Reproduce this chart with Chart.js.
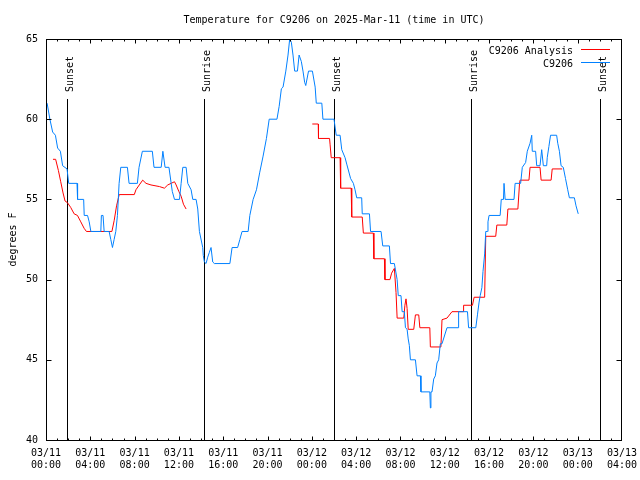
<!DOCTYPE html>
<html>
<head>
<meta charset="utf-8">
<script src="https://cdn.jsdelivr.net/npm/chart.js@4.4.1/dist/chart.umd.min.js"></script>
<style>
  body { margin: 0; background: #fff; }
  #wrap { width: 640px; height: 480px; }
</style>
</head>
<body>
<div id="wrap"><canvas id="myChart" width="640" height="480"></canvas></div>
<script>
// Temperature for C9206, hours after 03/11 00:00 UTC

const chartTitle = "Temperature for C9206 on 2025-Mar-11 (time in UTC)";
const yTitle = "degrees F";
const startDay = 11;

// observed (blue) [hour, degF]
const observed = [
  [0.1,61],[0.35,60],[0.6,59.2],[0.85,59],[1.05,58.2],[1.3,58],[1.5,57.1],[1.9,56.9],[2.05,56],[2.8,56],
  [2.85,55],[3.4,55],[3.45,54],[3.75,54],[3.9,53.6],[4.05,53],[4.95,53],[5.0,54],[5.15,54],[5.25,53],
  [5.7,53],[5.85,52.5],[6.0,52],[6.15,52.5],[6.3,53],[6.45,54],[6.6,56],[6.75,57],[7.35,57],[7.5,56],
  [8.25,56],[8.4,57],[8.7,58],[9.6,58],[9.75,57],[10.4,57],[10.55,58],[10.75,57],[11.1,57],[11.3,56],
  [11.4,55.5],[11.6,55],[12.05,55],[12.2,56],[12.35,57],[12.65,57],[12.8,56],[13.1,55.6],[13.25,55],[13.55,55],
  [13.7,54.4],[13.85,53],[14.15,52],[14.2,51.5],[14.3,51.1],[14.45,51],[14.6,51.4],[14.75,51.7],[14.9,52],[15.05,51.1],
  [15.2,51],[16.6,51],[16.8,52],[17.3,52],[17.5,52.5],[17.7,53],[18.25,53],[18.4,54],[18.7,55],[19.0,55.6],
  [19.3,56.7],[19.6,57.7],[19.9,58.8],[20.15,60],[20.85,60],[21.05,60.8],[21.25,61.9],[21.4,62],[21.65,63],[21.85,64],
  [22.0,65],[22.15,64.8],[22.3,64],[22.45,63],[22.7,63],[22.85,64],[23.05,63.6],[23.2,63],[23.35,62.3],[23.45,62.1],
  [23.7,63],[24.05,63],[24.3,62],[24.4,61],[24.9,61],[25.0,60],[26.0,60],[26.2,59],[26.55,59],[26.7,58.1],
  [27.0,57.6],[27.15,57.2],[27.5,56.3],[27.75,56],[27.9,55.6],[28.05,55.1],[28.5,55.1],[28.55,54.1],[29.2,54.1],[29.3,53],
  [30.25,53],[30.4,52.1],[31.0,52.1],[31.1,51],[31.45,51],[31.55,50.6],[31.7,50],[31.8,49],[32.05,49],[32.15,48],
  [32.35,48],[32.45,47],[32.6,46.9],[32.7,46.3],[32.8,45.9],[32.9,45],[33.35,45],[33.5,44],[33.8,44],[33.85,43],
  [34.65,43],[34.7,42],[34.75,43],[34.85,43],[35.0,43.8],[35.15,44],[35.3,44.8],[35.45,45],[35.6,46],[35.75,46],
  [36.2,47],[37.2,47],[37.25,48],[38.05,48],[38.15,47],[38.8,47],[38.95,47.8],[39.1,48.6],[39.2,49],[39.35,49.5],
  [39.45,50.5],[39.6,51.6],[39.7,53],[39.85,53],[39.9,53.6],[40.0,54],[41.0,54],[41.1,55],[41.3,55],[41.35,56],
  [41.45,55],[42.25,55],[42.35,56],[42.85,56],[43.0,57],[43.3,57.3],[43.45,58],[43.7,58.5],[43.85,59],[43.9,58],
  [44.2,58],[44.3,57.1],[44.6,57.1],[44.75,58.1],[44.9,57.1],[45.2,57.1],[45.25,57.6],[45.4,58.3],[45.55,59],[46.1,59],
  [46.2,58.5],[46.35,58],[46.5,57.1],[46.7,57],[46.9,56.3],[47.1,55.6],[47.25,55.1],[47.7,55.1],[47.85,54.6],[48.05,54.1]
];

// analysis (red) [hour, degF], null = gap
const analysis = [
  [0.63,57.5],[0.87,57.5],[1.12,56.8],[1.33,56.1],[1.54,55.4],[1.72,54.9],[1.93,54.8],[2.23,54.5],[2.54,54.1],[2.84,54],
  [3.14,53.6],[3.44,53.2],[3.65,53],[5.95,53],[6.16,53.7],[6.37,54.6],[6.61,55.3],[7.97,55.3],[8.12,55.6],[8.42,55.9],
  [8.73,56.2],[9.03,56],[9.48,55.9],[10.24,55.8],[10.69,55.7],[10.99,55.9],[11.29,56],[11.6,56.1],[11.75,55.9],[11.99,55.5],
  [12.2,55.2],[12.41,54.7],[12.65,54.4],
  [18,null],
  [24.04,59.7],[24.58,59.7],[24.6,58.8],[25.6,58.8],[25.65,58.4],[25.75,57.6],[26.55,57.6],[26.6,55.7],[27.55,55.7],[27.6,53.9],
  [28.55,53.9],[28.65,52.9],[29.55,52.9],[29.6,51.3],[30.55,51.3],[30.6,50],[31.05,50],[31.2,50.4],[31.45,50.7],[31.6,49.2],
  [31.7,47.6],[32.3,47.6],[32.4,48.4],[32.5,48.8],[32.6,48.2],[32.7,46.9],[33.2,46.9],[33.35,47.8],[33.65,47.8],[33.75,47],
  [34.65,47],[34.7,45.8],[35.65,45.8],[35.75,47.5],[36.2,47.6],[36.65,48],[37.65,48],[37.7,48.4],[38.5,48.4],[38.65,48.9],
  [39.6,48.9],[39.7,52.7],[40.6,52.7],[40.7,53.4],[41.6,53.4],[41.7,54.4],[42.6,54.4],[42.75,56],[42.8,56.2],[43.6,56.2],
  [43.7,57],[44.6,57],[44.7,56.2],[45.6,56.2],[45.7,56.9],[46.6,56.9]
];

// sunrise / sunset marks (hours)
const sunHours = [1.93, 14.25, 26.03, 38.35, 50.04];
const sunLabels = ["Sunset", "Sunrise", "Sunset", "Sunrise", "Sunset"];

const seriesNames = ["C9206 Analysis", "C9206"];
const seriesColors = ["#ff0000", "#0080ff"];

const FONT = "10px 'DejaVu Sans Mono', monospace";

function toXY(list) {
  return list.map(p => ({x: p[0], y: p[1]}));
}

function crisp(v) {
  return Math.round(v) + 0.5;
}

// gnuplot style frame, inward ticks, sun lines and texts
const gnuplotBits = {
  id: 'gnuplotBits',
  beforeDatasetsDraw(chart) {
    const ctx = chart.ctx;
    const xs = chart.scales.x;
    const a = chart.chartArea;
    ctx.save();
    ctx.strokeStyle = "#000";
    ctx.lineWidth = 1;
    ctx.font = FONT;
    ctx.fillStyle = "#000";
    sunHours.forEach((h, i) => {
      const px = crisp(xs.getPixelForValue(h));
      ctx.beginPath();
      ctx.moveTo(px, a.top + 60);
      ctx.lineTo(px, a.bottom);
      ctx.stroke();
      ctx.save();
      ctx.translate(px + 5, a.top + 53);
      ctx.rotate(-Math.PI / 2);
      ctx.textAlign = "left";
      ctx.textBaseline = "alphabetic";
      ctx.fillText(sunLabels[i], 0, 0);
      ctx.restore();
    });
    ctx.restore();
  },
  afterDraw(chart) {
    const ctx = chart.ctx;
    const xs = chart.scales.x;
    const ys = chart.scales.y;
    const a = chart.chartArea;
    ctx.save();
    ctx.strokeStyle = "#000";
    ctx.lineWidth = 1;
    const L = crisp(a.left), R = crisp(a.right) - 1, T = crisp(a.top), B = crisp(a.bottom);
    ctx.strokeRect(L, T, R - L, B - T);

    ctx.beginPath();
    for (let h = 0; h <= 52; h++) {
      let px = crisp(xs.getPixelForValue(h));
      if (h === 52) px = R;
      const len = (h % 4 === 0) ? 4 : 2;
      ctx.moveTo(px, B); ctx.lineTo(px, B - len);
      ctx.moveTo(px, T); ctx.lineTo(px, T + len);
    }
    for (let v = 40; v <= 65; v += 5) {
      const py = crisp(ys.getPixelForValue(v));
      ctx.moveTo(L, py); ctx.lineTo(L + 5, py);
      ctx.moveTo(R, py); ctx.lineTo(R - 5, py);
    }
    ctx.stroke();

    ctx.font = FONT;
    ctx.fillStyle = "#000";
    ctx.textBaseline = "middle";
    ctx.textAlign = "center";
    ctx.fillText(chartTitle, (a.left + a.right) / 2, 20);

    ctx.save();
    ctx.translate(13, (a.top + a.bottom) / 2);
    ctx.rotate(-Math.PI / 2);
    ctx.fillText(yTitle, 0, 0);
    ctx.restore();

    // legend
    seriesNames.forEach((name, i) => {
      const ly = a.top + 11 + i * 13;
      ctx.textAlign = "right";
      ctx.fillStyle = "#000";
      ctx.fillText(name, a.right - 49, ly + 1);
      ctx.strokeStyle = seriesColors[i];
      ctx.beginPath();
      ctx.moveTo(a.right - 41, crisp(ly - 1));
      ctx.lineTo(a.right - 12, crisp(ly - 1));
      ctx.stroke();
    });
    ctx.restore();
  }
};

const data = {
  datasets: [{
    label: seriesNames[0],
    data: toXY(analysis),
    borderColor: seriesColors[0],
    borderWidth: 1,
    pointRadius: 0,
    spanGaps: false,
    order: 2
  }, {
    label: seriesNames[1],
    data: toXY(observed),
    borderColor: seriesColors[1],
    borderWidth: 1,
    pointRadius: 0,
    order: 1
  }]
};

const config = {
  type: 'line',
  data: data,
  options: {
    responsive: false,
    animation: false,
    layout: { padding: { top: 39, right: 18, left: 0, bottom: 0 } },
    plugins: {
      legend: { display: false },
      title: { display: false },
      tooltip: { enabled: false }
    },
    scales: {
      x: {
        type: 'linear',
        min: 0,
        max: 52,
        grid: { display: false, drawTicks: false },
        border: { display: false },
        afterFit: s => { s.height = 40; s.paddingLeft = 0; s.paddingRight = 0; },
        ticks: {
          stepSize: 4,
          autoSkip: false,
          maxRotation: 0,
          padding: 7,
          color: "#000",
          font: { family: "'DejaVu Sans Mono', monospace", size: 10, lineHeight: 1.25 },
          callback: v => {
            const day = startDay + Math.floor(v / 24);
            const hr = v % 24;
            return ["03/" + String(day).padStart(2, "0"), String(hr).padStart(2, "0") + ":00"];
          }
        }
      },
      y: {
        min: 40,
        max: 65,
        grid: { display: false, drawTicks: false },
        border: { display: false },
        afterFit: s => { s.width = 46; s.paddingTop = 0; s.paddingBottom = 0; },
        ticks: {
          stepSize: 5,
          padding: 8,
          color: "#000",
          font: { family: "'DejaVu Sans Mono', monospace", size: 10 }
        }
      }
    }
  },
  plugins: [gnuplotBits]
};

const myChart = new Chart(document.getElementById('myChart'), config);
</script>
</body>
</html>
